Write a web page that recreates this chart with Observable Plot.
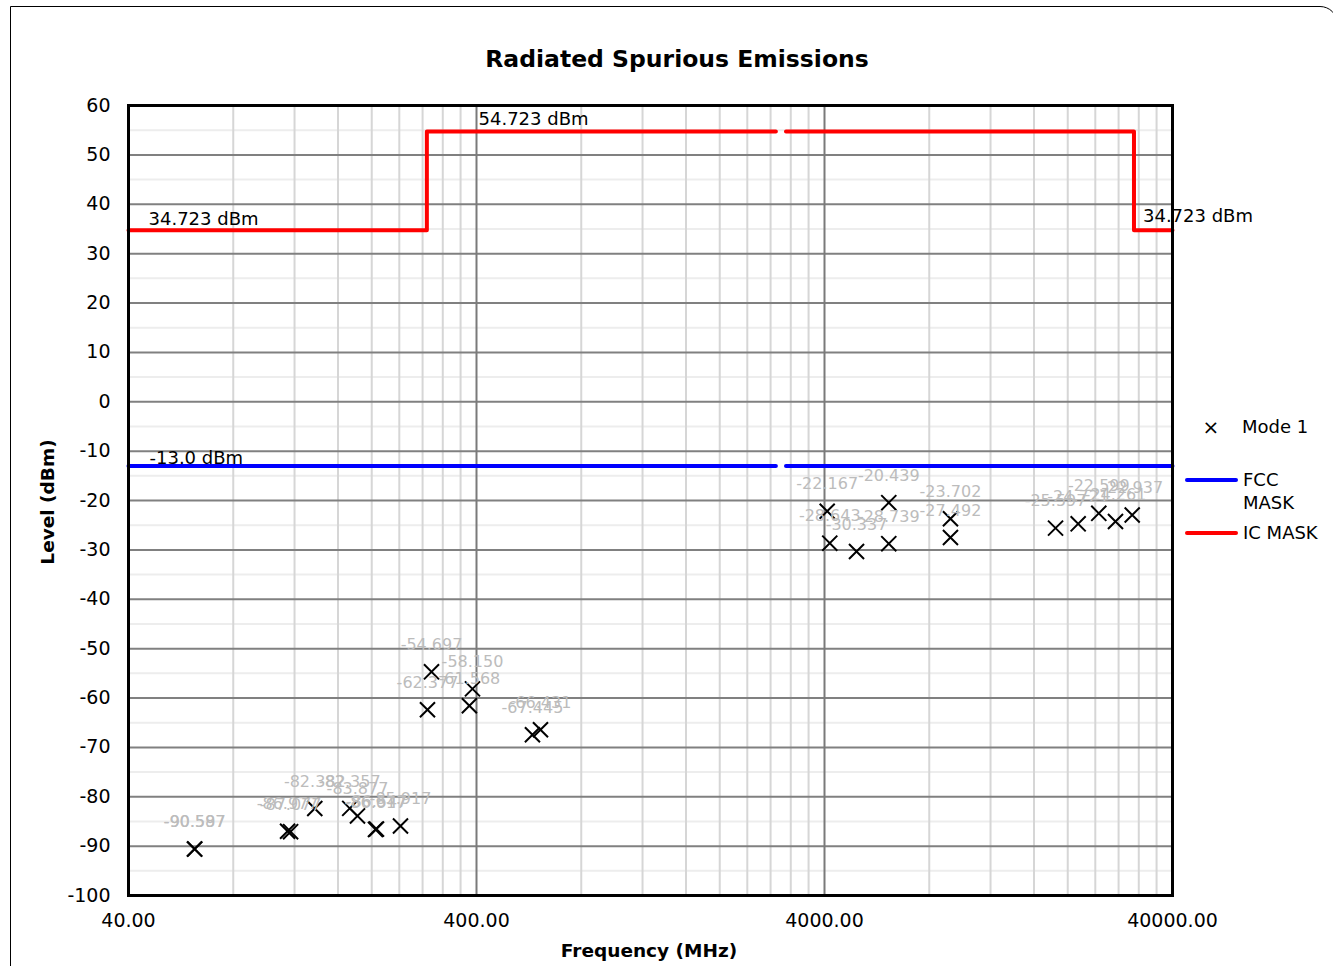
<!DOCTYPE html>
<html>
<head>
<meta charset="utf-8">
<script src="https://cdn.jsdelivr.net/npm/d3@7"></script>
<script src="https://cdn.jsdelivr.net/npm/@observablehq/plot@0.6"></script>
<style>
  html, body { margin: 0; padding: 0; background: #fff; }
  #wrap { position: relative; width: 1333px; height: 966px; overflow: hidden; font-family: "DejaVu Sans", Verdana, sans-serif; }
  #border { position: absolute; left: 10px; top: 6px; width: 1328px; height: 1000px; border: 1.5px solid #000; border-top-right-radius: 18px; box-sizing: border-box; }
  #chart { position: absolute; left: 0; top: 0; }
  .title { position: absolute; left: 0; width: 1354px; top: 45px; text-align: center; font-weight: bold; font-size: 23.5px; }
  .xlabel { position: absolute; left: 0; width: 1298px; top: 940px; text-align: center; font-weight: bold; font-size: 18.5px; }
  .ylabel { position: absolute; left: 47px; top: 502px; transform: translate(-50%, -50%) rotate(-90deg); font-weight: bold; font-size: 18.5px; white-space: nowrap; }
  #legend { position: absolute; left: 0; top: 0; }
</style>
</head>
<body>
<div id="wrap">
  <div id="chart"></div>
  <div id="border"></div>
  <div class="title">Radiated Spurious Emissions</div>
  <div class="xlabel">Frequency (MHz)</div>
  <div class="ylabel">Level (dBm)</div>
  <svg id="legend" width="1333" height="966" font-family="DejaVu Sans, Verdana, sans-serif" font-size="18"></svg>
</div>
<script>
// ---- Data ----
const modeFreq = [61.9, 62.0, 114.6, 116.9, 137.2, 172.9, 182.0, 205.0, 206.4, 241.9,
                  289.2, 297.0, 381.6, 389.5, 579.2, 610.8,
                  4072, 4142, 4944, 6120, 6120, 9205, 9205,
                  18448, 21430, 24560, 27430, 30640];
const modeLevel = [-90.587, -90.597, -86.977, -87.077, -82.382, -82.357, -83.877, -86.617, -86.547, -85.917,
                   -62.377, -54.697, -61.568, -58.150, -67.445, -66.431,
                   -22.167, -28.643, -30.337, -20.439, -28.739, -23.702, -27.492,
                   -25.597, -24.721, -22.599, -24.261, -22.937];

// IC mask (two segments, gap near 3 GHz)
const icFreq  = [40, 288, 288, 2900, 3100, 31000, 31000, 40000];
const icLevel = [34.723, 34.723, 54.723, 54.723, 54.723, 54.723, 34.723, 34.723];
const icSeg   = [0, 0, 0, 0, 1, 1, 1, 1];
// FCC mask
const fccFreq  = [40, 2900, 3100, 40000];
const fccLevel = [-13.0, -13.0, -13.0, -13.0];
const fccSeg   = [0, 0, 1, 1];

// mask annotation labels
const maskLabelText  = ["34.723 dBm", "54.723 dBm", "34.723 dBm", "-13.0 dBm"];
const maskLabelFreq  = [40, 400, 31000, 40];
const maskLabelLevel = [34.723, 54.723, 34.723, -13.0];

// axis ticks
const xTicks = [40, 400, 4000, 40000];
const yTicks = d3.range(-100, 61, 10);

// ---- Build ----
const points = modeFreq.map((f, i) => ({f, v: modeLevel[i]}));
const ic = icFreq.map((f, i) => ({f, v: icLevel[i], s: icSeg[i]}));
const fcc = fccFreq.map((f, i) => ({f, v: fccLevel[i], s: fccSeg[i]}));
const maskLabels = maskLabelText.map((t, i) => ({t, f: maskLabelFreq[i], v: maskLabelLevel[i]}));

const xMinor = [];
for (let d = 0; d < 3; d++) for (let k = 2; k <= 9; k++) xMinor.push(40 * Math.pow(10, d) * k);
const xInner = xTicks.slice(1, -1);
const yMinor = d3.range(-95, 60, 10);
const fmtX = d3.format(".2f");

const chart = Plot.plot({
  width: 1333,
  height: 966,
  marginLeft: 128,
  marginRight: 161,
  marginTop: 105,
  marginBottom: 71,
  style: {fontFamily: "DejaVu Sans, Verdana, sans-serif", fontSize: "18px", color: "#000", background: "transparent"},
  x: {type: "log", domain: [40, 40000], axis: null},
  y: {domain: [-100, 60], axis: null},
  marks: [
    Plot.ruleY(yMinor, {stroke: "#ededed", strokeWidth: 2}),
    Plot.ruleX(xMinor, {stroke: "#d6d6d6", strokeWidth: 2}),
    Plot.ruleY(yTicks, {stroke: "#808080", strokeWidth: 2}),
    Plot.ruleX(xInner, {stroke: "#7a7a7a", strokeWidth: 2}),
    Plot.line(fcc, {x: "f", y: "v", z: "s", stroke: "#0000ff", strokeWidth: 4, strokeLinecap: "round"}),
    Plot.line(ic, {x: "f", y: "v", z: "s", stroke: "#ff0000", strokeWidth: 4, strokeLinecap: "round"}),
    Plot.text(maskLabels, {x: "f", y: "v", text: "t", textAnchor: "start", fill: "#000", fontSize: 18}),
    Plot.dot(points, {x: "f", y: "v", symbol: "times", r: 6.9, stroke: "#000", strokeWidth: 2}),
    Plot.text(points, {x: "f", y: "v", text: (d) => d.v.toFixed(3), dy: -27, fill: "#bcbcbc", fontSize: 16}),
    // x tick labels
    Plot.text(xTicks, {x: (d) => d, frameAnchor: "bottom", dy: 31, text: (d) => fmtX(d), fill: "#000", fontSize: 19}),
    // y tick labels
    Plot.text(yTicks, {y: (d) => d, frameAnchor: "left", dx: -18, textAnchor: "end", text: (d) => String(d), fill: "#000", fontSize: 19}),
    Plot.frame({stroke: "#000", strokeWidth: 3})
  ]
});
document.getElementById("chart").appendChild(chart);

// adjust mask label offsets (annotation placement relative to their data points)
const offs = [[20, -11], [2, -12], [9, -14], [21, -8]];
const maskTexts = chart.querySelectorAll('g[aria-label="text"]')[0].querySelectorAll("text");
maskTexts.forEach((t, i) => {
  const [dx, dy] = offs[i];
  const tr = t.getAttribute("transform") || "";
  t.setAttribute("transform", tr + ` translate(${dx},${dy})`);
});

// ---- Legend ----
const lg = d3.select("#legend");
lg.append("text").attr("x", 1211).attr("y", 427).attr("text-anchor", "middle").attr("dy", "0.35em").attr("font-size", 20).text("×");
lg.append("text").attr("x", 1242).attr("y", 427).attr("dy", "0.35em").text("Mode 1");
lg.append("line").attr("x1", 1187).attr("x2", 1236).attr("y1", 480).attr("y2", 480).attr("stroke", "#0000ff").attr("stroke-width", 4).attr("stroke-linecap", "round");
lg.append("text").attr("x", 1243).attr("y", 480).attr("dy", "0.35em").text("FCC");
lg.append("text").attr("x", 1243).attr("y", 503).attr("dy", "0.35em").text("MASK");
lg.append("line").attr("x1", 1187).attr("x2", 1236).attr("y1", 533).attr("y2", 533).attr("stroke", "#ff0000").attr("stroke-width", 4).attr("stroke-linecap", "round");
lg.append("text").attr("x", 1243).attr("y", 533).attr("dy", "0.35em").text("IC MASK");
</script>
</body>
</html>
